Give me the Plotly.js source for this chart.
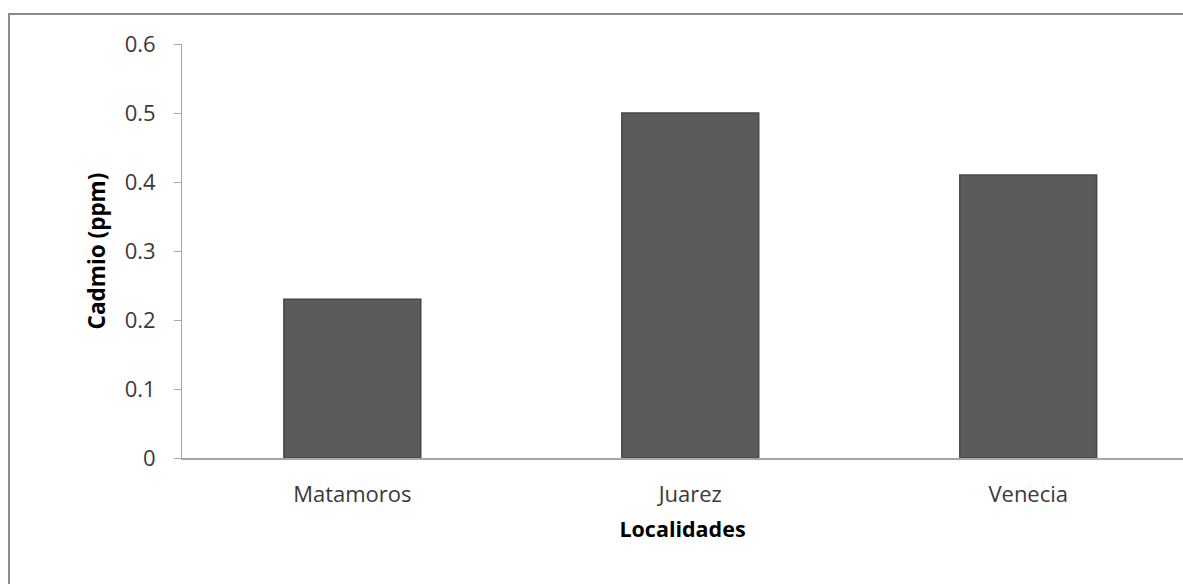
<!DOCTYPE html>
<html>
<head>
<meta charset="utf-8">
<script src="https://cdn.plot.ly/plotly-3.0.1.min.js"></script>
<style>
  html, body { margin: 0; padding: 0; background: #ffffff; }
  #chart { width: 1183px; height: 584px; }
</style>
</head>
<body>
<div id="chart"></div>
<script>
// Data
const localidades = ["Matamoros", "Juarez", "Venecia"];
const cadmioPpm = [0.23, 0.50, 0.41];
const yTickValues = [0, 0.1, 0.2, 0.3, 0.4, 0.5, 0.6];
const yTickLabels = ["0", "0.1", "0.2", "0.3", "0.4", "0.5", "0.6"];

const FONT = '"Open Sans", "Noto Sans", "DejaVu Sans", sans-serif';

const trace = {
  type: 'bar',
  x: localidades,
  y: cadmioPpm,
  width: 0.405,
  marker: {
    color: '#5b5b5b',
    line: { color: '#474747', width: 1.5 }
  },
  hoverinfo: 'x+y'
};

const borderColor = '#8a8a8a';

const layout = {
  width: 1183,
  height: 584,
  margin: { l: 182, r: 0, t: 44, b: 126, pad: 0 },
  paper_bgcolor: '#ffffff',
  plot_bgcolor: '#ffffff',
  showlegend: false,
  bargap: 0.6,
  font: { family: FONT, color: '#3a3a3a', size: 22 },
  xaxis: {
    type: 'category',
    range: [-0.504, 2.458],
    showline: true,
    linecolor: '#a6a6a6',
    linewidth: 2,
    ticks: '',
    showgrid: false,
    zeroline: false,
    ticklabelstandoff: 16,
    tickfont: { family: FONT, size: 22, color: '#3a3a3a' },
    title: {
      text: 'Localidades',
      font: { family: FONT, size: 21.5, color: '#000000', weight: 'bold' },
      standoff: 15
    },
    fixedrange: true
  },
  yaxis: {
    range: [0, 0.6],
    tickvals: yTickValues,
    ticktext: yTickLabels,
    showline: true,
    linecolor: '#a6a6a6',
    linewidth: 1,
    ticks: 'outside',
    ticklen: 7,
    tickwidth: 1,
    tickcolor: '#a6a6a6',
    showgrid: false,
    zeroline: false,
    ticklabelstandoff: 14,
    tickfont: { family: FONT, size: 22, color: '#3a3a3a' },
    title: {
      text: 'Cadmio (ppm)',
      font: { family: FONT, size: 22.5, color: '#000000', weight: 'bold' },
      standoff: 12
    },
    fixedrange: true
  },
  shapes: [
    { type: 'line', xref: 'paper', yref: 'paper',
      x0: -0.1728, x1: -0.1728, y0: 1.0725, y1: -0.33,
      line: { color: borderColor, width: 2 } },
    { type: 'line', xref: 'paper', yref: 'paper',
      x0: -0.1738, x1: 1.01, y0: 1.0725, y1: 1.0725,
      line: { color: borderColor, width: 2 } }
  ]
};

Plotly.newPlot('chart', [trace], layout, { displayModeBar: false, staticPlot: true });
</script>
</body>
</html>
